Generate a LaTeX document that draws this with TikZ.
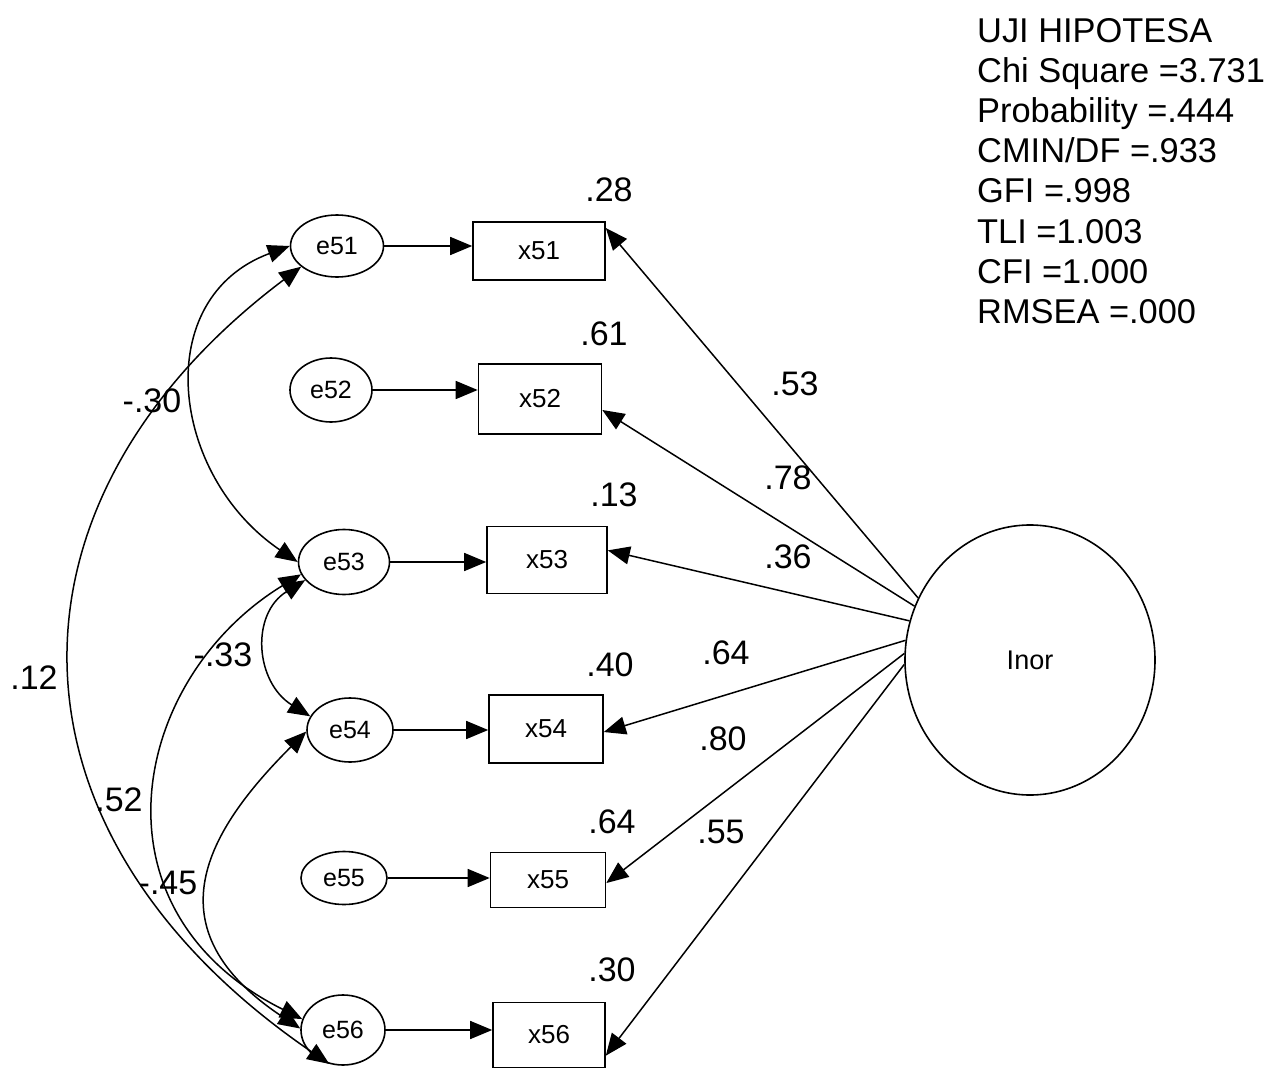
\documentclass[tikz,border=0pt]{standalone}
\usepackage{fontspec}
\setmainfont{Liberation Sans}
\usetikzlibrary{arrows.meta,shapes.geometric}
\begin{document}
\begin{tikzpicture}[x=1pt,y=-1pt,
  >={Triangle[length=22pt,width=18pt]},
  err/.style={ellipse, draw, line width=1.6pt, inner sep=0pt, font=\fontsize{25}{30}\selectfont},
  obs/.style={rectangle, draw, line width=1.6pt, inner sep=0pt, font=\fontsize{26}{31}\selectfont},
  lat/.style={ellipse, draw, line width=1.6pt, inner sep=0pt, font=\fontsize{27}{32}\selectfont},
  lab/.style={font=\fontsize{34}{40}\selectfont, inner sep=0pt},
  stat/.style={font=\fontsize{34.4}{40}\selectfont, inner sep=0pt, anchor=base west},
  reg/.style={line width=1.5pt, ->},
  cov/.style={line width=1.5pt, <->}]
\useasboundingbox (0,0) rectangle (1283,1070);

% error terms
\node[err, minimum width=93pt, minimum height=62pt] (e51) at (337,246) {e51};
\node[err, minimum width=82pt, minimum height=64pt] (e52) at (331,390) {e52};
\node[err, minimum width=91pt, minimum height=65pt] (e53) at (344,562) {e53};
\node[err, minimum width=86pt, minimum height=64pt] (e54) at (350,730) {e54};
\node[err, minimum width=86pt, minimum height=53pt] (e55) at (344,878) {e55};
\node[err, minimum width=84pt, minimum height=70pt] (e56) at (343,1030) {e56};

% observed
\node[obs, minimum width=132pt, minimum height=58pt] (x51) at (539,251) {x51};
\node[obs, minimum width=123pt, minimum height=70pt] (x52) at (540,399) {x52};
\node[obs, minimum width=120pt, minimum height=67pt] (x53) at (547,560) {x53};
\node[obs, minimum width=114pt, minimum height=68pt] (x54) at (546,729) {x54};
\node[obs, minimum width=115pt, minimum height=55pt] (x55) at (548,880) {x55};
\node[obs, minimum width=112pt, minimum height=65pt] (x56) at (549,1035) {x56};

% latent
\node[lat, minimum width=250pt, minimum height=270pt] (inor) at (1030,660) {Inor};

% error -> indicator
\draw[reg] (e51) -- (e51 -| x51.west);
\draw[reg] (e52) -- (e52 -| x52.west);
\draw[reg] (e53) -- (e53 -| x53.west);
\draw[reg] (e54) -- (e54 -| x54.west);
\draw[reg] (e55) -- (e55 -| x55.west);
\draw[reg] (e56) -- (e56 -| x56.west);

% loadings
\draw[reg] (inor.151) -- (x51.19);
\draw[reg] (inor.155) -- (x52.-10);
\draw[reg] (inor.162) -- (x53.9);
\draw[reg] (inor.171) -- (x54.-3);
\draw[reg] (inor.177) -- (x55.-3);
\draw[reg] (inor.182) -- (x56.-20);

% covariances
\draw[cov] (e51.west) .. controls +(-140,52) and +(-128,-87) .. (e53.west);
\draw[cov] (e51.210) .. controls +(-311,234) and +(-339,-232) .. (e56.248);
\draw[cov] (e53.205) .. controls +(-55,34) and +(-55,-34) .. (e54.161);
\draw[cov] (e53.196) .. controls +(-170,104) and +(-218,-109) .. (e56.165);
\draw[cov] (e54.182) .. controls +(-100,100) and +(-151,-100) .. (e56.178);

% squared multiple correlations
\node[lab] (r51) at (609,190) {.28};
\node[lab] (r52) at (604,334) {.61};
\node[lab] (r53) at (614,495) {.13};
\node[lab] (r54) at (610,665) {.40};
\node[lab] (r55) at (612,822) {.64};
\node[lab] (r56) at (612,970) {.30};

% loading labels
\node[lab] (l51) at (795,384) {.53};
\node[lab] (l52) at (788,478) {.78};
\node[lab] (l53) at (788,557) {.36};
\node[lab] (l54) at (726,653) {.64};
\node[lab] (l55) at (723,739) {.80};
\node[lab] (l56) at (721,832) {.55};

% covariance labels
\node[lab] (c1) at (152,401) {-.30};
\node[lab] (c2) at (34,678) {.12};
\node[lab] (c3) at (223,655) {-.33};
\node[lab] (c4) at (119,800) {.52};
\node[lab] (c5) at (168,883) {-.45};

% fit statistics
\node[stat] (s1) at (977,43) {UJI HIPOTESA};
\node[stat] (s2) at (977,83) {Chi Square =3.731};
\node[stat] (s3) at (977,123) {Probability =.444};
\node[stat] (s4) at (977,163) {CMIN/DF =.933};
\node[stat] (s5) at (977,203) {GFI =.998};
\node[stat] (s6) at (977,243) {TLI =1.003};
\node[stat] (s7) at (977,283) {CFI =1.000};
\node[stat] (s8) at (977,323) {RMSEA =.000};
\end{tikzpicture}
\end{document}
